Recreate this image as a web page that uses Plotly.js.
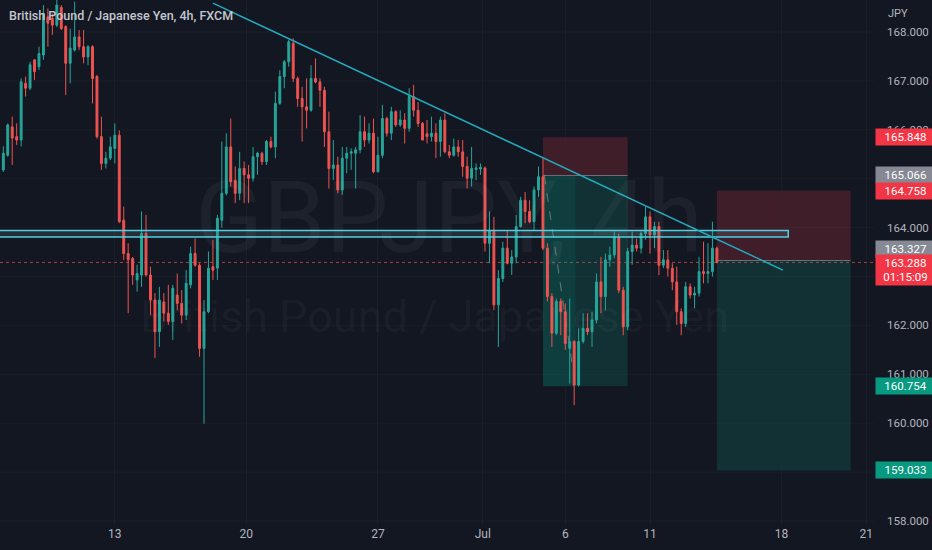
<!DOCTYPE html>
<html><head><meta charset="utf-8">
<script src="https://cdn.plot.ly/plotly-3.0.1.min.js"></script>
<style>html,body{margin:0;padding:0;background:#131722;}#chart{width:932px;height:550px;}</style>
</head><body><div id="chart"></div>
<script>
// GBPJPY 4h candles (index-based x)
const opens = [165.18,165.48,166.06,165.86,165.79,166.95,166.85,167.43,167.29,167.53,168.31,168.28,168.14,168.50,168.11,167.36,167.63,167.90,167.70,167.49,
167.70,167.09,165.86,165.31,165.42,165.62,165.89,164.15,163.47,163.37,162.93,163.03,163.88,163.03,162.52,161.87,162.48,162.25,162.08,162.62,
162.45,162.21,162.83,163.47,163.23,161.53,162.28,163.20,163.17,164.15,164.70,165.65,164.97,164.70,165.21,165.08,165.01,165.45,165.52,165.35,
165.76,165.65,166.54,167.09,167.39,167.77,167.05,166.64,166.47,166.40,167.05,166.98,166.81,165.96,165.21,165.28,164.77,165.42,165.52,165.52,
165.59,165.96,165.79,165.93,165.14,165.48,166.23,165.93,166.37,166.10,166.20,166.03,166.68,166.40,166.13,165.92,165.86,165.93,165.76,166.20,
165.55,165.48,165.65,165.55,165.25,165.01,165.19,165.20,165.22,163.68,163.95,162.42,162.96,163.58,163.27,163.40,164.02,164.56,164.33,164.12,
164.77,165.04,163.58,162.59,161.84,162.49,162.28,161.53,161.67,160.78,161.67,161.94,161.87,162.11,162.89,162.59,163.34,163.44,163.81,162.72,
161.97,163.51,163.64,163.58,163.88,164.22,163.85,164.02,163.23,163.34,163.17,162.89,162.28,162.04,162.79,162.62,162.66,163.10,163.06,163.10,
163.58];
const highs = [165.66,166.13,166.27,166.13,167.05,167.09,167.39,167.44,167.70,168.55,168.48,168.38,168.78,168.55,168.14,168.07,168.62,168.04,168.04,167.73,
167.73,167.12,166.27,165.55,165.86,166.13,165.99,164.43,163.68,163.40,163.24,164.33,164.26,163.20,162.66,162.79,162.66,162.83,162.83,163.06,
162.72,163.13,163.61,163.78,163.27,162.52,163.51,163.75,164.26,165.76,165.93,166.23,165.25,165.55,165.35,165.28,165.65,165.55,165.55,165.79,
165.86,166.78,167.22,167.43,167.84,167.87,167.09,166.88,167.05,167.32,167.46,167.05,166.88,166.37,165.79,165.45,165.65,165.65,165.62,165.65,
166.30,166.27,166.13,166.23,165.86,166.51,166.27,166.47,166.40,166.40,166.34,166.85,166.92,166.57,166.16,166.20,166.27,166.13,166.27,166.34,
165.69,165.82,165.79,165.79,165.45,165.65,165.31,165.31,165.25,164.33,164.22,163.13,163.71,163.95,163.54,164.26,164.63,164.73,164.56,164.84,
165.25,165.42,163.68,162.66,162.55,162.55,162.45,162.55,161.70,161.94,162.25,162.25,162.28,163.06,163.40,163.47,163.61,163.92,163.88,162.79,
163.58,163.92,163.78,163.92,164.43,164.33,164.12,164.12,163.54,163.54,163.27,163.20,162.35,162.89,162.86,162.79,163.40,163.71,163.68,164.12,
163.61];
const lows = [165.14,165.45,165.28,165.69,165.66,166.68,166.81,167.02,167.22,167.43,167.70,167.94,168.10,168.04,166.71,166.95,167.60,167.63,167.36,167.32,
166.54,165.82,165.18,165.21,165.38,165.31,164.09,163.34,162.25,162.83,162.69,162.79,163.00,162.21,161.33,161.56,162.08,162.01,161.70,162.31,
162.04,162.11,162.76,163.20,161.36,159.99,162.25,162.93,162.93,164.00,164.66,164.84,164.50,164.56,164.50,164.50,164.94,165.08,165.28,165.28,
165.62,165.42,166.51,166.85,167.29,166.98,166.47,165.76,166.03,166.37,166.95,166.47,165.65,164.80,164.97,164.70,164.67,165.11,165.18,164.80,
165.52,165.65,165.72,165.11,165.14,165.42,165.86,165.79,166.06,166.06,165.72,165.96,166.27,166.06,165.79,165.72,165.76,165.42,165.45,165.52,
165.42,165.45,165.45,165.04,164.80,164.84,164.97,165.08,163.51,163.27,162.31,161.56,162.89,163.25,163.03,163.27,164.00,164.09,164.09,163.95,
164.63,163.54,162.49,161.56,161.80,161.80,161.50,160.81,160.37,160.75,161.63,161.80,161.56,162.04,162.25,162.31,163.20,163.37,162.66,161.80,
161.90,163.24,163.51,163.47,163.75,163.47,163.58,163.03,163.17,163.00,162.72,162.01,161.80,161.97,162.55,162.35,162.59,162.86,162.86,163.00,
163.27];
const closes = [165.52,166.10,165.83,165.79,166.98,166.85,167.33,167.19,167.56,168.38,168.18,168.14,168.55,168.07,167.36,167.67,167.90,167.70,167.49,167.70,
167.05,165.86,165.31,165.42,165.65,165.89,164.12,163.47,163.34,163.03,163.06,163.88,163.03,162.52,161.87,162.52,162.25,162.08,162.76,162.45,
162.21,162.86,163.47,163.23,161.53,162.28,163.17,163.13,164.19,164.70,165.65,164.94,164.70,165.21,165.08,165.01,165.45,165.52,165.35,165.76,
165.65,166.54,167.09,167.39,167.80,167.05,166.64,166.47,166.40,167.05,166.98,166.81,165.96,165.21,165.28,164.77,165.42,165.52,165.55,165.59,
165.96,165.79,165.93,165.14,165.48,166.23,165.93,166.37,166.10,166.20,166.03,166.68,166.40,166.13,165.79,165.86,165.93,165.76,166.20,165.55,
165.48,165.65,165.55,165.25,165.01,165.21,165.22,165.23,163.68,163.95,162.42,162.96,163.58,163.27,163.40,164.02,164.56,164.33,164.12,164.77,
165.04,163.58,162.59,161.84,162.49,162.28,161.63,161.67,160.78,161.67,161.94,161.87,162.11,162.89,162.59,163.34,163.44,163.81,162.72,161.97,
163.51,163.64,163.58,163.88,164.22,163.85,164.02,163.23,163.34,163.17,162.89,162.28,162.04,162.79,162.62,162.66,163.10,163.06,163.10,163.58,
163.288];
const idx = opens.map((_, i) => i);

// time axis labels (candle index where each day begins)
const dayTickIdx = [25, 54.5, 84, 107.5, 126, 145, 174.5, 193.5];
const dayTickText = ['13', '20', '27', 'Jul', '6', '11', '18', '21'];
// price scale labels that are visible (159, 163, 165 sit under the price tags)
const priceTicks = [158, 160, 161, 162, 164, 166, 167, 168];
const priceGrid = [158, 159, 160, 161, 162, 163, 164, 165, 166, 167, 168];

// drawings
const trendLine = {i0: 47, p0: 168.59, i1: 174.8, p1: 163.13};
const zoneBand = {i0: -5, i1: 176, low: 163.81, high: 163.94};
const shortTrades = [
  {i0: 121, i1: 140, entry: 165.066, stop: 165.848, target: 160.754, hitIdx: 128.3},
  {i0: 160, i1: 190, entry: 163.327, stop: 164.758, target: 159.033, hitIdx: null}
];
const lastPrice = 163.288;
const countdown = '01:15:09';

const UP = '#26a69a', DOWN = '#ef5350';
const PW = 874; // plot width px

const shapes = [];
const annotations = [];
priceGrid.forEach(p => {
  shapes.push({type: 'line', xref: 'paper', yref: 'y', x0: 0, x1: 1, y0: p, y1: p,
    line: {color: 'rgba(42,46,57,0.3)', width: 1}, layer: 'below'});
});
shortTrades.forEach(t => {
  shapes.push({type: 'rect', xref: 'x', yref: 'y', x0: t.i0, x1: t.i1, y0: t.entry, y1: t.stop,
    fillcolor: 'rgba(242,54,69,0.2)', line: {width: 0}, layer: 'below'});
  shapes.push({type: 'rect', xref: 'x', yref: 'y', x0: t.i0, x1: t.i1, y0: t.target, y1: t.entry,
    fillcolor: 'rgba(8,153,129,0.2)', line: {width: 0}, layer: 'below'});
  shapes.push({type: 'line', xref: 'x', yref: 'y', x0: t.i0, x1: t.i1, y0: t.entry, y1: t.entry,
    line: {color: 'rgba(140,143,152,0.7)', width: 1}, layer: 'below'});
  if (t.hitIdx !== null) {
    shapes.push({type: 'rect', xref: 'x', yref: 'y', x0: t.i0, x1: t.hitIdx, y0: t.target, y1: t.entry,
      fillcolor: 'rgba(8,153,129,0.12)', line: {width: 0}, layer: 'below'});
    shapes.push({type: 'line', xref: 'x', yref: 'y', x0: t.i0 + 0.3, x1: t.hitIdx, y0: t.entry, y1: t.target,
      line: {color: 'rgba(170,173,182,0.55)', width: 1, dash: 'dash'}, layer: 'below'});
  }
});
shapes.push({type: 'line', xref: 'paper', yref: 'y', x0: 0, x1: 1, y0: lastPrice, y1: lastPrice,
  line: {color: 'rgba(239,83,80,0.7)', width: 1, dash: 'dot'}, layer: 'below'});
shapes.push({type: 'rect', xref: 'x', yref: 'y', x0: zoneBand.i0, x1: zoneBand.i1, y0: zoneBand.low, y1: zoneBand.high,
  fillcolor: 'rgba(120,123,134,0.22)', line: {color: '#4dd0e1', width: 1.5}, layer: 'above'});
shapes.push({type: 'line', xref: 'x', yref: 'y', x0: trendLine.i0, x1: trendLine.i1, y0: trendLine.p0, y1: trendLine.p1,
  line: {color: '#23a9bd', width: 1.5}, layer: 'above'});

// price labels on the scale
function priceTag(price, bg, yshift, text, h) {
  annotations.push({xref: 'paper', yref: 'y', x: 1 + 1 / PW, y: price, xanchor: 'left', yanchor: 'middle',
    yshift: yshift || 0, text: text || price.toFixed(3), showarrow: false, bgcolor: bg,
    width: 55, height: h || 12, borderpad: 2, align: 'center',
    font: {family: 'Roboto, sans-serif', size: 11.5, color: '#ffffff'}});
}
priceTag(shortTrades[0].stop, '#f23645');
priceTag(shortTrades[0].entry, '#868993');
priceTag(shortTrades[1].stop, '#f23645');
priceTag(shortTrades[1].entry, '#868993', 12);
annotations.push({xref: 'paper', yref: 'y', x: 1 + 1 / PW, y: lastPrice, xanchor: 'left', yanchor: 'top',
  yshift: 8, text: lastPrice.toFixed(3) + '<br>' + countdown, showarrow: false, bgcolor: '#f23645',
  width: 55, height: 26, borderpad: 2, align: 'center',
  font: {family: 'Roboto, sans-serif', size: 11.5, color: '#ffffff'}});
priceTag(shortTrades[0].target, '#089981');
priceTag(shortTrades[1].target, '#089981');

// texts
annotations.push({xref: 'paper', yref: 'paper', x: 7 / PW, y: (525 - 16) / 525, xanchor: 'left', yanchor: 'middle',
  text: 'British Pound / Japanese Yen, 4h, FXCM', showarrow: false,
  font: {family: 'Roboto, sans-serif', size: 12.5, color: '#c3c6ce', weight: 500}});
annotations.push({xref: 'paper', yref: 'paper', x: 886 / PW, y: (525 - 14) / 525, xanchor: 'left', yanchor: 'middle',
  text: 'JPY', showarrow: false, font: {family: 'Roboto, sans-serif', size: 11, color: '#b2b5be'}});
annotations.push({xref: 'paper', yref: 'paper', x: 449 / PW, y: (525 - 217) / 525, xanchor: 'center', yanchor: 'middle',
  text: 'GBPJPY, 4h', showarrow: false, font: {family: 'Roboto, sans-serif', size: 100, color: 'rgba(255,255,255,0.045)'}});
annotations.push({xref: 'paper', yref: 'paper', x: 434 / PW, y: (525 - 316) / 525, xanchor: 'center', yanchor: 'middle',
  text: 'British Pound / Japanese Yen', showarrow: false, font: {family: 'Roboto, sans-serif', size: 45, color: 'rgba(255,255,255,0.045)'}});

const trace = {
  type: 'candlestick', x: idx, open: opens, high: highs, low: lows, close: closes,
  increasing: {line: {color: UP, width: 1}, fillcolor: UP},
  decreasing: {line: {color: DOWN, width: 1}, fillcolor: DOWN},
  whiskerwidth: 0, hoverinfo: 'skip', showlegend: false
};

const layout = {
  width: 932, height: 550,
  margin: {l: 0, r: 932 - PW, t: 0, b: 25},
  paper_bgcolor: '#131722', plot_bgcolor: '#131722',
  boxgap: 0.4,
  showlegend: false,
  xaxis: {
    range: [(0 - 3.3) / 4.46, (PW - 3.3) / 4.46],
    rangeslider: {visible: false},
    tickmode: 'array', tickvals: dayTickIdx, ticktext: dayTickText,
    tickfont: {family: 'Roboto, sans-serif', size: 12, color: '#b2b5be'},
    showgrid: true, gridcolor: 'rgba(42,46,57,0.3)', zeroline: false, showline: false,
    ticks: '', fixedrange: true
  },
  yaxis: {
    side: 'right',
    range: [168 - 493 / 48.9, 168 + 32 / 48.9],
    tickmode: 'array', tickvals: priceTicks, ticktext: priceTicks.map(v => v.toFixed(3)),
    tickfont: {family: 'Roboto, sans-serif', size: 11.5, color: '#b2b5be'},
    ticks: '', ticklabelstandoff: 12,
    showgrid: false, zeroline: false, showline: false, fixedrange: true
  },
  shapes: shapes,
  annotations: annotations
};

Plotly.newPlot('chart', [trace], layout, {displayModeBar: false, staticPlot: true});
</script>
</body></html>
